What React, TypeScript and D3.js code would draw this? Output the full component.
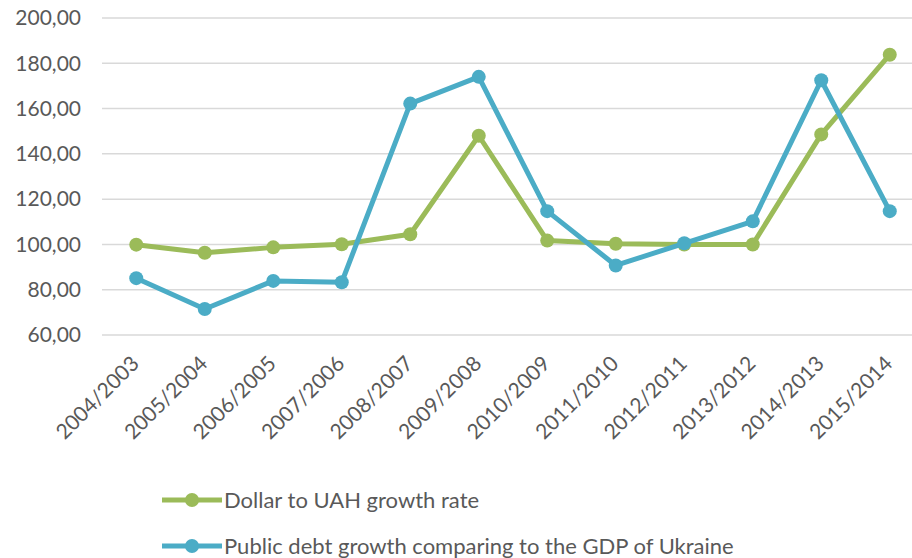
import React from "react";
import * as d3 from "d3";

// periods on the x axis
const periods = [
  "2004/2003", "2005/2004", "2006/2005", "2007/2006", "2008/2007", "2009/2008",
  "2010/2009", "2011/2010", "2012/2011", "2013/2012", "2014/2013", "2015/2014",
];
// dollar to UAH growth rate
const dollarRate = [99.9, 96.3, 98.7, 100.1, 104.5, 148.0, 101.7, 100.3, 100.0, 100.0, 148.6, 183.8];
// public debt growth vs GDP
const publicDebt = [85.1, 71.5, 83.9, 83.3, 162.2, 174.0, 114.7, 90.7, 100.5, 110.2, 172.5, 114.7];
const yTicks = [60, 80, 100, 120, 140, 160, 180, 200];
const seriesNames = ["Dollar to UAH growth rate", "Public debt growth comparing to the GDP of Ukraine"];
const colors = ["#9BBB59", "#4BACC6"];

const W = 912;
const H = 558;
const FONT = "Lato, 'Open Sans', sans-serif";

const App = () => {
  const x = d3.scaleBand().domain(periods).range([102, 924]);
  const y = d3.scaleLinear().domain([60, 200]).range([335, 18]);
  const fmt = (v: number) => d3.format(".2f")(v).replace(".", ",");
  const cx = (d: string) => (x(d) as number) + x.bandwidth() / 2;

  const line = d3
    .line<number>()
    .x((_, i) => cx(periods[i]))
    .y((d) => y(d));

  const series = [dollarRate, publicDebt];

  return (
    <svg
      width={W}
      height={H}
      style={{ position: "absolute", left: 0, top: 0, background: "#fff" }}
      fontFamily={FONT}
    >
      {/* gridlines */}
      {yTicks.map((t) => (
        <line key={t} x1={102} x2={W} y1={y(t)} y2={y(t)} stroke="#d9d9d9" strokeWidth={1.5} />
      ))}
      {/* y labels */}
      {yTicks.map((t) => (
        <text key={t} x={81} y={y(t)} dy="0.35em" textAnchor="end" fontSize={21} fill="#595959">
          {fmt(t)}
        </text>
      ))}
      {/* x labels */}
      {periods.map((p) => (
        <text
          key={p}
          transform={`translate(${cx(p) + 4},${365}) rotate(-45)`}
          textAnchor="end"
          fontSize={21}
          fill="#595959"
        >
          {p}
        </text>
      ))}
      {series.map((s, k) => (
        <g key={k}>
          <path d={line(s) || ""} fill="none" stroke={colors[k]} strokeWidth={5} strokeLinejoin="round" />
          {s.map((v, i) => (
            <circle key={i} cx={cx(periods[i])} cy={y(v)} r={7} fill={colors[k]} />
          ))}
        </g>
      ))}
      {/* legend */}
      {seriesNames.map((n, k) => {
        const ly = 500 + k * 46;
        return (
          <g key={n}>
            <line x1={162} x2={222} y1={ly} y2={ly} stroke={colors[k]} strokeWidth={5} />
            <circle cx={192} cy={ly} r={7} fill={colors[k]} />
            <text x={224} y={ly} dy="0.35em" fontSize={22} fill="#595959">
              {n}
            </text>
          </g>
        );
      })}
    </svg>
  );
};

export default App;
